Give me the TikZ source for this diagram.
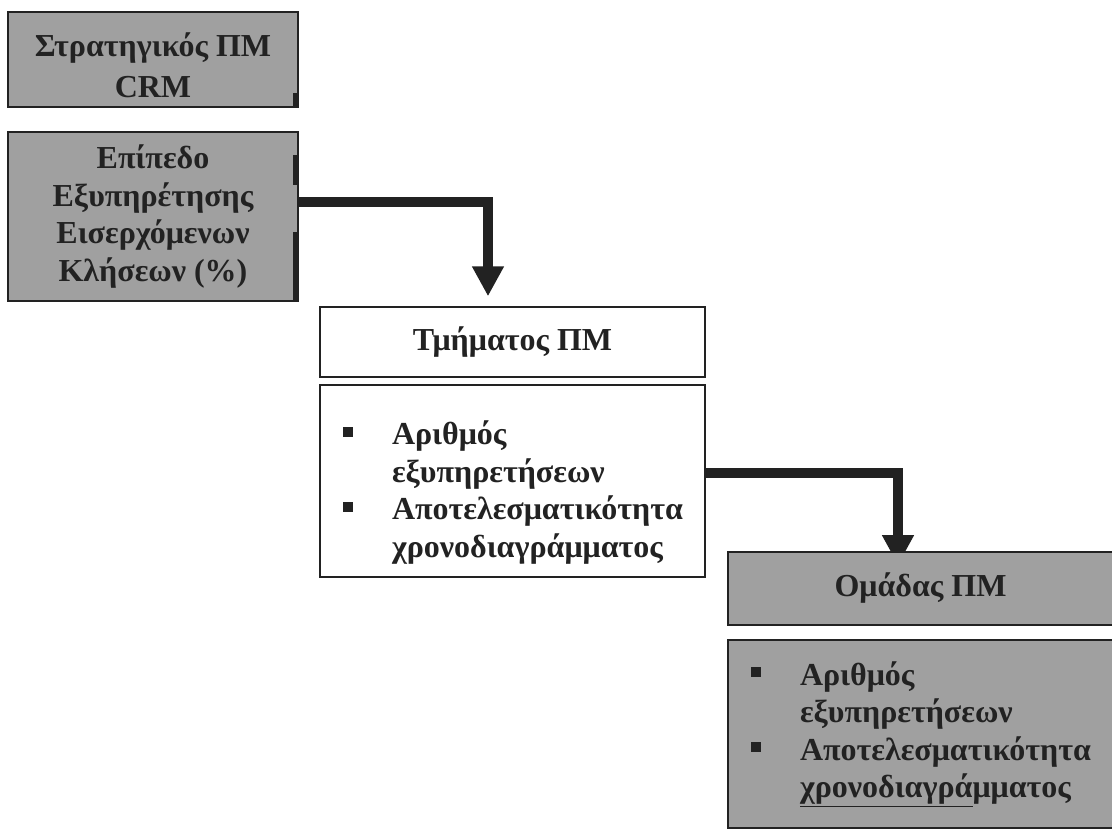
\documentclass[tikz,border=0pt]{standalone}
\usepackage{fontspec}
\setmainfont{Liberation Serif}
\usetikzlibrary{arrows.meta,calc}
\definecolor{boxgray}{RGB}{160,160,160}
\definecolor{ink}{RGB}{34,34,34}
% bullet cell and matching indent for list lines
\newcommand{\bul}{\makebox[72pt][l]{\hspace*{23pt}\rule[8pt]{10pt}{10pt}}}
\newcommand{\ind}{\hspace*{72pt}}
\pgfdeclarelayer{paper}
\pgfdeclarelayer{links}
\pgfsetlayers{paper,links,main}
\begin{document}
\begin{tikzpicture}[x=1pt,y=-1pt,
  every node/.style={font=\fontsize{32}{37.5}\selectfont\bfseries, text=ink},
  graybox/.style={draw=ink, line width=1.8pt, fill=boxgray, inner sep=0pt, align=center},
  whitebox/.style={draw=ink, line width=1.4pt, fill=white, inner sep=0pt, align=center},
  listbox/.style={align=left, text width=385pt},
  conn/.style={draw=ink, line width=10pt, -{Triangle[width=30pt,length=30pt]}}]
\useasboundingbox (0,0) rectangle (1112,830);
\begin{pgfonlayer}{paper}
  \fill[white] (0,0) rectangle (1112,830);
\end{pgfonlayer}

% left column
\node[graybox, minimum width=290pt, minimum height=95pt] (A) at (153,59.5)
  {\rule{0pt}{35pt}Στρατηγικός ΠΜ\\[3pt]CRM};
\node[graybox, minimum width=290pt, minimum height=169pt] (B) at (153,216.5)
  {Επίπεδο\\Εξυπηρέτησης\\Εισερχόμενων\\Κλήσεων (\%)};
% dark edge marks on the right side of the left boxes
\fill[ink] (293,93) rectangle (298.9,107.9);
\fill[ink] (293,155) rectangle (298.9,185);
\fill[ink] (293,232) rectangle (298.9,301.9);

% middle column
\node[whitebox, minimum width=385pt, minimum height=70pt] (C) at (512.5,342)
  {Τμήματος ΠΜ};
\node[whitebox, listbox, minimum width=385pt, minimum height=192pt] (D) at (512.5,481)
  {\rule{0pt}{47pt}\bul Αριθμός\\
   \ind εξυπηρετήσεων\\
   \bul Αποτελεσματικότητα\\
   \ind χρονοδιαγράμματος};

% right column
\node[graybox, minimum width=385pt, minimum height=73pt] (E) at (920.5,588.5)
  {Ομάδας ΠΜ};
\node[graybox, listbox, minimum width=385pt, minimum height=188pt] (F) at (920.5,734)
  {\bul Αριθμός\\
   \ind εξυπηρετήσεων\\
   \bul Αποτελεσματικότητα\\
   \ind \underline{χρονοδιαγρά}μματος};

% connectors
\begin{pgfonlayer}{links}
  \draw[conn, shorten >=10pt] ([yshift=14.5pt]B.east) -| ([xshift=-24.5pt]C.north);
  \draw[conn, shorten >=-14pt] ([yshift=8pt]D.east) -| ([xshift=-22.5pt]E.north);
\end{pgfonlayer}
\end{tikzpicture}
\end{document}
